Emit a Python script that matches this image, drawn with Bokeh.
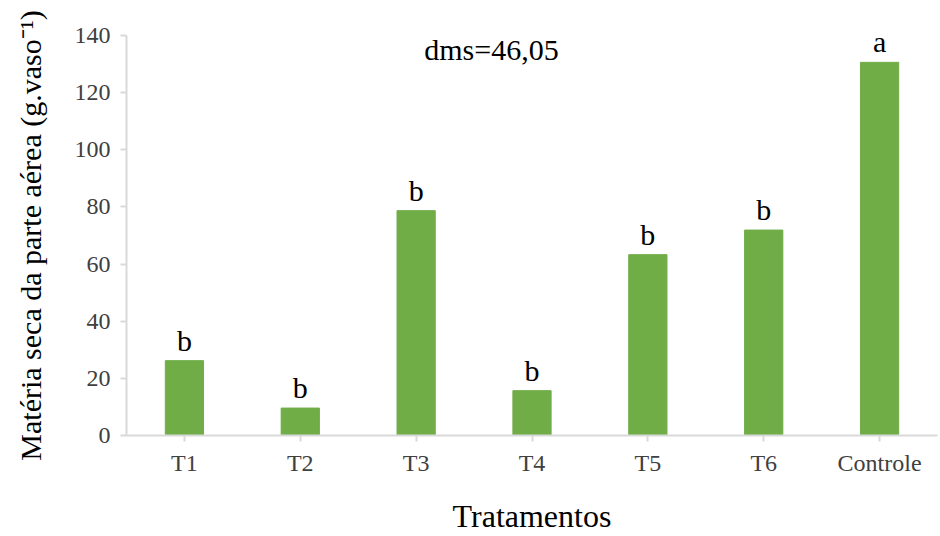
from bokeh.plotting import figure
from bokeh.models import ColumnDataSource, Label, FactorRange
from bokeh.core.properties import value
from bokeh.embed import file_html
from bokeh.resources import INLINE

categories = ["T1", "T2", "T3", "T4", "T5", "T6", "Controle"]
values = [26.2, 9.6, 78.7, 15.7, 63.3, 71.9, 130.6]
letters = ["b", "b", "b", "b", "b", "b", "a"]
y_ticks = [0, 20, 40, 60, 80, 100, 120, 140]
dms_text = "dms=46,05"

FONT = "Liberation Serif"

src = ColumnDataSource(dict(cat=categories, val=values, let=letters))

p = figure(width=940, height=536, x_range=FactorRange(*categories, range_padding=0),
           y_range=(0, 140), output_backend="svg", toolbar_location=None,
           min_border_left=126, min_border_right=3, min_border_top=35, min_border_bottom=100)

p.vbar(x="cat", top="val", width=0.33, source=src, fill_color="#70AD47", line_color="#70AD47")
p.text(x="cat", y="val", text="let", source=src, text_align="center", text_baseline="bottom",
       y_offset=-4, text_font=value(FONT), text_font_size="30px", text_color="#000000")

p.add_layout(Label(x=3.15, y=130.6, text=dms_text, text_align="center", text_baseline="bottom",
                   y_offset=-4, text_font=FONT, text_font_size="30px", text_color="#000000"))

p.xgrid.visible = False
p.ygrid.visible = False
p.outline_line_color = None

for ax in (p.xaxis, p.yaxis):
    ax.axis_line_color = "#D9D9D9"
    ax.axis_line_width = 2
    ax.major_tick_line_color = "#D9D9D9"
    ax.major_tick_line_width = 2
    ax.major_tick_in = 0
    ax.major_tick_out = 6
    ax.minor_tick_line_color = None
    ax.major_label_text_font = FONT
    ax.major_label_text_font_size = "24px"
    ax.major_label_text_color = "#404040"
    ax.axis_label_text_font = FONT
    ax.axis_label_text_font_style = "normal"
    ax.axis_label_text_color = "#000000"

p.yaxis.ticker = y_ticks
p.yaxis.major_label_standoff = 10
p.yaxis.axis_label = "Matéria seca da parte aérea (g.vaso⁻¹)"
p.yaxis.axis_label_text_font_size = "30px"
p.yaxis.axis_label_standoff = 25
p.xaxis.axis_label = "Tratamentos"
p.xaxis.axis_label_text_font_size = "32px"
p.xaxis.major_label_standoff = 8
p.xaxis.axis_label_standoff = 19

open("out.html", "w").write(file_html(p, INLINE))
